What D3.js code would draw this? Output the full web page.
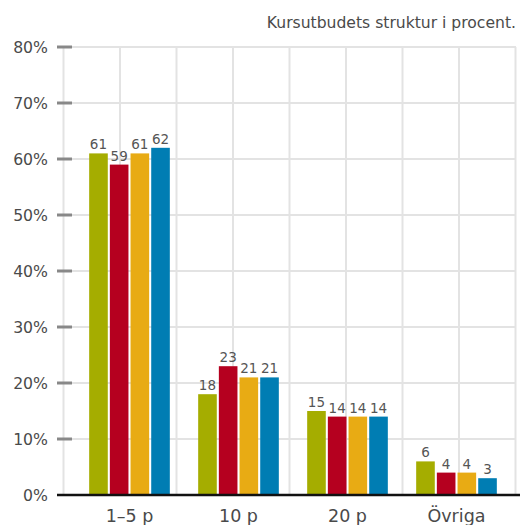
<!DOCTYPE html>
<html>
<head>
<meta charset="utf-8">
<style>
  body { margin: 0; background: #fff; }
  svg text { font-family: "DejaVu Sans", sans-serif; }
</style>
</head>
<body>
<script src="https://cdn.jsdelivr.net/npm/d3@7/dist/d3.min.js"></script>
<script>
// data
var categories = ["1\u20135 p", "10 p", "20 p", "Övriga"];
var series = ["s1", "s2", "s3", "s4"];
var values = [
  [61, 59, 61, 62],
  [18, 23, 21, 21],
  [15, 14, 14, 14],
  [6, 4, 4, 3]
];
var yTicks = [0, 10, 20, 30, 40, 50, 60, 70, 80];
var colors = ["#a5ad00", "#b5001f", "#e8ab14", "#007db3"];
var title = "Kursutbudets struktur i procent.";

var width = 520, height = 525;
var svg = d3.select("body").append("svg")
  .attr("width", width)
  .attr("height", height);

var y = d3.scaleLinear().domain([0, 80]).range([495, 47]);
var x0 = d3.scaleBand().domain(categories).range([75, 511])
  .paddingInner(0.26).paddingOuter(0.13);
var x1 = d3.scaleBand().domain(series).range([0, x0.bandwidth()]).paddingInner(0.1);

// grid, square cells
var gridX = d3.range(0, 9).map(function (i) { return 63.5 + i * 56.5; });
svg.append("g").selectAll("line.v")
  .data(gridX).enter().append("line")
  .attr("x1", d => d).attr("x2", d => d)
  .attr("y1", y(80)).attr("y2", y(0))
  .style("stroke", "#e3e3e3").style("stroke-width", 2);
svg.append("g").selectAll("line.h")
  .data(yTicks.slice(1)).enter().append("line")
  .attr("x1", 63).attr("x2", 516)
  .attr("y1", d => y(d)).attr("y2", d => y(d))
  .style("stroke", "#e3e3e3").style("stroke-width", 2);

// y axis ticks and labels
var yAxis = svg.append("g");
yAxis.selectAll("line")
  .data(yTicks.slice(1)).enter().append("line")
  .attr("x1", 57).attr("x2", 72)
  .attr("y1", d => y(d)).attr("y2", d => y(d))
  .style("stroke", "#888").style("stroke-width", 3);
yAxis.selectAll("text")
  .data(yTicks).enter().append("text")
  .attr("x", 48).attr("y", d => y(d))
  .attr("dy", "0.38em")
  .attr("text-anchor", "end")
  .style("font-size", "15.7px").style("fill", "#4a4a4a")
  .text(d => d + "%");

// bars
var groups = svg.append("g").selectAll("g")
  .data(values).enter().append("g")
  .attr("transform", (d, i) => "translate(" + x0(categories[i]) + ",0)");
groups.selectAll("rect")
  .data(d => d).enter().append("rect")
  .attr("x", (d, j) => x1(series[j]))
  .attr("width", x1.bandwidth())
  .attr("y", d => y(d))
  .attr("height", d => y(0) - y(d))
  .attr("fill", (d, j) => colors[j]);
groups.selectAll("text")
  .data(d => d).enter().append("text")
  .attr("x", (d, j) => x1(series[j]) + x1.bandwidth() / 2)
  .attr("y", d => y(d) - 4)
  .attr("text-anchor", "middle")
  .style("font-size", "13.5px").style("fill", "#555")
  .text(d => d);

// baseline
svg.append("line")
  .attr("x1", 57).attr("x2", 520)
  .attr("y1", y(0)).attr("y2", y(0))
  .style("stroke", "#111").style("stroke-width", 2.5);

// category labels
svg.append("g").selectAll("text")
  .data(categories).enter().append("text")
  .attr("x", d => x0(d) + x0.bandwidth() / 2)
  .attr("y", 522)
  .attr("text-anchor", "middle")
  .style("font-size", "17.5px").style("fill", "#4a4a4a")
  .text(d => d);

// title
svg.append("text")
  .attr("x", 516).attr("y", 28)
  .attr("text-anchor", "end")
  .style("font-size", "15.6px").style("fill", "#4a4a4a")
  .text(title);
</script>
</body>
</html>
